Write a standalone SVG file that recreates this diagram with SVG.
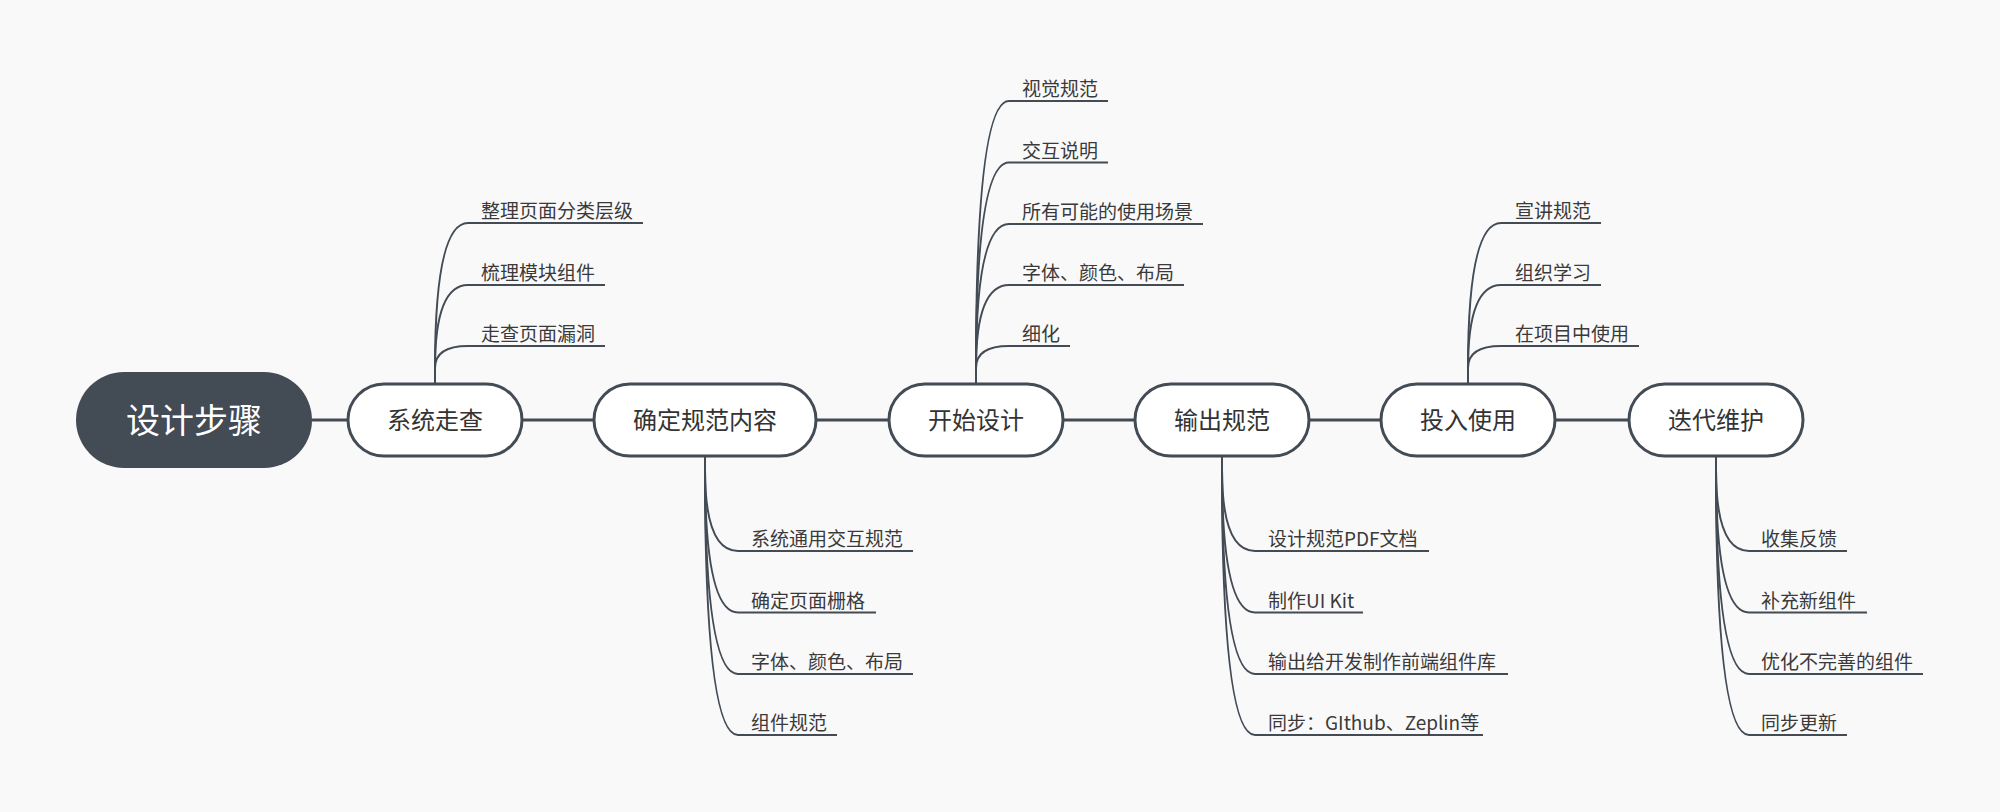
<svg xmlns="http://www.w3.org/2000/svg" width="2000" height="812" viewBox="0 0 2000 812">
<style>
.bg{fill:#f9f9fa}
.root{fill:#434b55}
.box{fill:#ffffff;stroke:#434b55;stroke-width:3}
.conn{fill:none;stroke:#434b55;stroke-width:3}
.br{fill:none;stroke:#434b55;stroke-width:2}
.rt{font-family:"Noto Sans CJK SC","Noto Sans",sans-serif;font-size:34px;fill:#ffffff;text-anchor:middle}
.nt{font-family:"Noto Sans CJK SC","Noto Sans",sans-serif;font-size:24px;fill:#333333;text-anchor:middle}
.st{font-family:"Noto Sans CJK SC","Noto Sans",sans-serif;font-size:19px;fill:#3a3a3a}
</style>
<rect class="bg" x="0" y="0" width="2000" height="812"/>
<g id="connectors">
<path class="conn" d="M312 420H348M522 420H594M816 420H889M1063 420H1135M1309 420H1381M1555 420H1629"/>
<path class="br" d="M435 384V368Q435 223 468 223H643"/>
<path class="br" d="M435 384V368Q435 285 468 285H605"/>
<path class="br" d="M435 384V368Q435 346 468 346H605"/>
<path class="br" d="M705 456V470Q705 551 738 551H913"/>
<path class="br" d="M705 456V470Q705 612.5 738 612.5H876"/>
<path class="br" d="M705 456V470Q705 674 738 674H913"/>
<path class="br" d="M705 456V470Q705 735 738 735H837"/>
<path class="br" d="M976 384V368Q976 101 1009 101H1108"/>
<path class="br" d="M976 384V368Q976 162.5 1009 162.5H1108"/>
<path class="br" d="M976 384V368Q976 224 1009 224H1203"/>
<path class="br" d="M976 384V368Q976 285 1009 285H1184"/>
<path class="br" d="M976 384V368Q976 346 1009 346H1070"/>
<path class="br" d="M1222 456V470Q1222 551 1255 551H1429"/>
<path class="br" d="M1222 456V470Q1222 612.5 1255 612.5H1363"/>
<path class="br" d="M1222 456V470Q1222 674 1255 674H1508"/>
<path class="br" d="M1222 456V470Q1222 735 1255 735H1483"/>
<path class="br" d="M1468 384V368Q1468 223 1501 223H1601"/>
<path class="br" d="M1468 384V368Q1468 285 1501 285H1601"/>
<path class="br" d="M1468 384V368Q1468 346 1501 346H1639"/>
<path class="br" d="M1716 456V470Q1716 551 1749 551H1847"/>
<path class="br" d="M1716 456V470Q1716 612.5 1749 612.5H1867"/>
<path class="br" d="M1716 456V470Q1716 674 1749 674H1923"/>
<path class="br" d="M1716 456V470Q1716 735 1749 735H1847"/>
</g>
<g id="root"><rect class="root" x="76" y="372" width="236" height="96" rx="48"/><text class="rt" x="194" y="433">设计步骤</text></g>
<g id="n1"><rect class="box" x="348" y="384" width="174" height="72" rx="36"/><text class="nt" x="435" y="429">系统走查</text></g>
<g id="n2"><rect class="box" x="594" y="384" width="222" height="72" rx="36"/><text class="nt" x="705" y="429">确定规范内容</text></g>
<g id="n3"><rect class="box" x="889" y="384" width="174" height="72" rx="36"/><text class="nt" x="976" y="429">开始设计</text></g>
<g id="n4"><rect class="box" x="1135" y="384" width="174" height="72" rx="36"/><text class="nt" x="1222" y="429">输出规范</text></g>
<g id="n5"><rect class="box" x="1381" y="384" width="174" height="72" rx="36"/><text class="nt" x="1468" y="429">投入使用</text></g>
<g id="n6"><rect class="box" x="1629" y="384" width="174" height="72" rx="36"/><text class="nt" x="1716" y="429">迭代维护</text></g>
<g id="n1-children">
<text class="st" x="481" y="218">整理页面分类层级</text>
<text class="st" x="481" y="280">梳理模块组件</text>
<text class="st" x="481" y="341">走查页面漏洞</text>
</g>
<g id="n2-children">
<text class="st" x="751" y="546">系统通用交互规范</text>
<text class="st" x="751" y="607.5">确定页面栅格</text>
<text class="st" x="751" y="669">字体、颜色、布局</text>
<text class="st" x="751" y="730">组件规范</text>
</g>
<g id="n3-children">
<text class="st" x="1022" y="96">视觉规范</text>
<text class="st" x="1022" y="157.5">交互说明</text>
<text class="st" x="1022" y="219">所有可能的使用场景</text>
<text class="st" x="1022" y="280">字体、颜色、布局</text>
<text class="st" x="1022" y="341">细化</text>
</g>
<g id="n4-children">
<text class="st" x="1268" y="546">设计规范PDF文档</text>
<text class="st" x="1268" y="607.5">制作UI Kit</text>
<text class="st" x="1268" y="669">输出给开发制作前端组件库</text>
<text class="st" x="1268" y="730">同步：GIthub、Zeplin等</text>
</g>
<g id="n5-children">
<text class="st" x="1515" y="218">宣讲规范</text>
<text class="st" x="1515" y="280">组织学习</text>
<text class="st" x="1515" y="341">在项目中使用</text>
</g>
<g id="n6-children">
<text class="st" x="1761" y="546">收集反馈</text>
<text class="st" x="1761" y="607.5">补充新组件</text>
<text class="st" x="1761" y="669">优化不完善的组件</text>
<text class="st" x="1761" y="730">同步更新</text>
</g>
</svg>
